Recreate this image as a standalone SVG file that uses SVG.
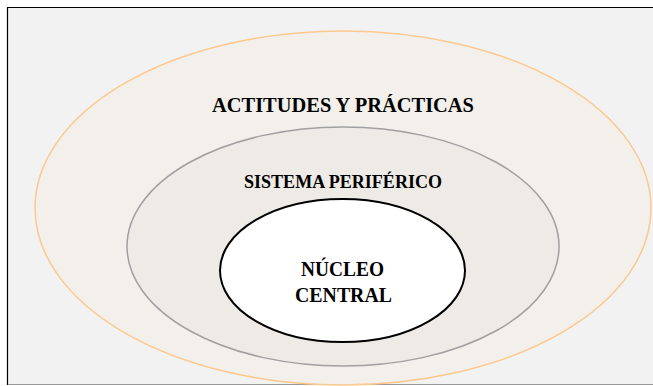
<svg xmlns="http://www.w3.org/2000/svg" width="653" height="386" viewBox="0 0 653 386">
<style>
.lbl{font-family:"Liberation Serif","DejaVu Serif",serif;font-weight:bold;fill:#000;text-anchor:middle}
</style>
<rect x="0" y="0" width="653" height="386" fill="#ffffff"/>
<rect x="8" y="8" width="660" height="376" fill="#f2f2f2"/>
<line x1="8" y1="7.5" x2="653" y2="7.5" stroke="#000" stroke-width="1.2"/>
<line x1="7.5" y1="7" x2="7.5" y2="385" stroke="#000" stroke-width="1.2"/>
<line x1="8" y1="384.5" x2="653" y2="384.5" stroke="#999" stroke-width="1"/>
<g id="actitudes">
<ellipse cx="343" cy="208" rx="308" ry="177" fill="#f3f0ec" stroke="#fcc88e" stroke-width="1.5"/>
<text class="lbl" x="343" y="112" font-size="22" textLength="262" lengthAdjust="spacingAndGlyphs">ACTITUDES Y PRÁCTICAS</text>
</g>
<g id="periferico">
<ellipse cx="343" cy="246.5" rx="216" ry="119.5" fill="#eeebe7" stroke="#a0a0a0" stroke-width="1.5"/>
<text class="lbl" x="343" y="188" font-size="19" textLength="198" lengthAdjust="spacingAndGlyphs">SISTEMA PERIFÉRICO</text>
</g>
<g id="nucleo">
<ellipse cx="342.5" cy="270.5" rx="122.5" ry="71.5" fill="#ffffff" stroke="#000" stroke-width="2"/>
<text class="lbl" x="342.5" y="276" font-size="22" textLength="83" lengthAdjust="spacingAndGlyphs">NÚCLEO</text>
<text class="lbl" x="343.5" y="302" font-size="22" textLength="97" lengthAdjust="spacingAndGlyphs">CENTRAL</text>
</g>
<g id="connectors"/>
</svg>
